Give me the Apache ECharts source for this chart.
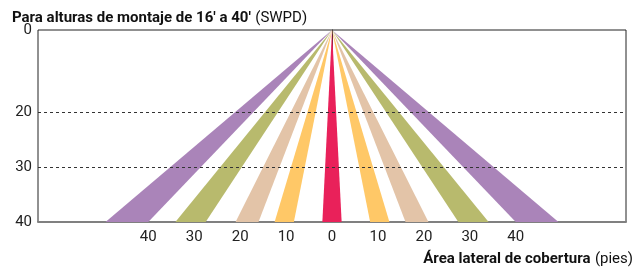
<!DOCTYPE html>
<html>
<head>
<meta charset="utf-8">
<script src="https://cdn.jsdelivr.net/npm/echarts@6/dist/echarts.min.js"></script>
<style>
  html, body { margin: 0; padding: 0; background: #fff; }
  #chart { width: 634px; height: 267px; }
</style>
</head>
<body>
<div id="chart"></div>
<script>
// bandas de cobertura: borde interior / exterior a 40' (pies, lado izquierdo negativo)
var bandInner = [-49.3, -34.1, -21, -12.5, -2.1, 8.3, 16, 27.5, 40];
var bandOuter = [-40, -27.5, -16, -8.3, 2.1, 12.5, 21, 34.1, 49.3];
var bandColors = ['#aa84b9', '#b8ba6d', '#e3c4a8', '#ffc867', '#e9215a',
                  '#ffc867', '#e3c4a8', '#b8ba6d', '#aa84b9'];
var apex = [0, 0];
var bottom = 40;

// ejes
var xTicks = [-40, -30, -20, -10, 0, 10, 20, 30, 40];
var yTickPos = [0, 17.1, 28.6, 40];
var yTickLabels = ['0', '20', '30', '40'];
var dashedAt = [17.1, 28.6];

var chart = echarts.init(document.getElementById('chart'));

var bands = bandInner.map(function (v, i) { return [v, bandOuter[i], i]; });

var rich = {
  b: { fontFamily: 'Roboto', fontWeight: 'bold', fontSize: 15, color: '#111' },
  r: { fontFamily: 'Roboto', fontWeight: 'normal', fontSize: 15, color: '#111' }
};

var option = {
  animation: false,
  textStyle: { fontFamily: 'Roboto' },
  title: [{
    left: 12,
    top: 9,
    padding: 0,
    text: '{b|Para alturas de montaje de 16\' a 40\'} {r|(SWPD)}',
    textStyle: { fontWeight: 'normal', rich: rich }
  }, {
    right: 1,
    top: 250,
    padding: 0,
    text: '{b|Área lateral de cobertura} {r|(pies)}',
    textStyle: { fontWeight: 'normal', rich: rich }
  }],
  grid: {
    left: 38, right: 8, top: 30, bottom: 45,
    show: true, borderColor: '#222', borderWidth: 1
  },
  xAxis: {
    type: 'value',
    min: -64, max: 64,
    axisLine: { show: true, onZero: false, lineStyle: { color: '#808080', width: 2 } },
    axisTick: { show: false },
    splitLine: { show: false },
    axisLabel: {
      customValues: xTicks,
      margin: 8,
      fontFamily: 'Roboto', fontSize: 15, color: '#222',
      formatter: function (v) { return String(Math.abs(v)); }
    }
  },
  yAxis: {
    type: 'value',
    inverse: true,
    min: 0, max: 40,
    axisLine: { show: true, lineStyle: { color: '#222', width: 1 } },
    axisTick: { show: false },
    splitLine: { show: false },
    axisLabel: {
      customValues: yTickPos,
      margin: 6,
      fontFamily: 'Roboto', fontSize: 15, color: '#222',
      formatter: function (v) {
        var i = yTickPos.indexOf(v);
        return i >= 0 ? yTickLabels[i] : '';
      }
    }
  },
  series: [{
    type: 'custom',
    data: bands,
    encode: { x: [0, 1] },
    renderItem: function (params, api) {
      var p0 = api.coord(apex);
      var p1 = api.coord([api.value(0), bottom]);
      var p2 = api.coord([api.value(1), bottom]);
      return {
        type: 'polygon',
        shape: { points: [p0, p1, p2] },
        style: { fill: bandColors[api.value(2)] }
      };
    },
    z: 2
  }, {
    type: 'line',
    data: [],
    z: 5,
    markLine: {
      silent: true,
      symbol: 'none',
      label: { show: false },
      lineStyle: { color: '#333', type: [3, 3], width: 1 },
      data: dashedAt.map(function (v) { return { yAxis: v }; })
    }
  }]
};

chart.setOption(option);
</script>
</body>
</html>
